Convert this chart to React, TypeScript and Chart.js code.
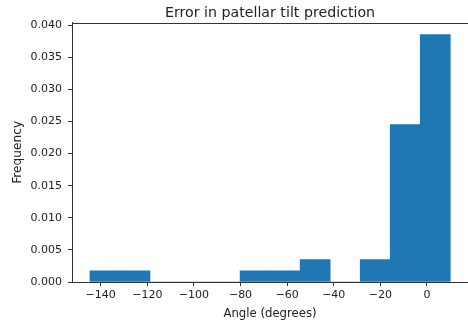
import React, { useEffect, useRef } from 'react';
import { Chart, registerables } from 'chart.js';

Chart.register(...registerables);

// Histogram bin edges (degrees) and density per bin
const binEdges = [-144.6, -131.717, -118.833, -105.95, -93.067, -80.183, -67.3, -54.417, -41.533, -28.65, -15.767, -2.883, 10.0];
const densities = [0.00175, 0.00175, 0, 0, 0, 0.00175, 0.00175, 0.0035, 0, 0.0035, 0.0245, 0.0385];
const xTicks = [-140, -120, -100, -80, -60, -40, -20, 0];
const yTicks = [0, 0.005, 0.01, 0.015, 0.02, 0.025, 0.03, 0.035, 0.04];
const xRange = [-152.3, 17.6];
const yRange = [0, 0.04036];
const titleText = 'Error in patellar tilt prediction';
const xLabel = 'Angle (degrees)';
const yLabel = 'Frequency';

const FONT = 'DejaVu Sans';
const BAR = '#1f77b4';
const AXIS = '#333333';
const TEXT = '#222222';

const topFrame = {
  id: 'topFrame',
  afterDraw(chart: any) {
    const { ctx, chartArea } = chart;
    ctx.save();
    ctx.strokeStyle = AXIS;
    ctx.lineWidth = 1;
    ctx.beginPath();
    ctx.moveTo(chartArea.left, Math.round(chartArea.top) + 0.5);
    ctx.lineTo(chartArea.right, Math.round(chartArea.top) + 0.5);
    ctx.stroke();
    ctx.restore();
  },
};

export default function App() {
  const ref = useRef<HTMLCanvasElement>(null);
  useEffect(() => {
    document.body.style.margin = '0';
    document.body.style.overflow = 'hidden';
    const points = densities.map((d, i) => ({ x: (binEdges[i] + binEdges[i + 1]) / 2, y: d }));
    const chart = new Chart(ref.current!, {
      type: 'bar',
      data: {
        datasets: [
          {
            data: points as any,
            backgroundColor: BAR,
            borderWidth: 0,
            barPercentage: 1,
            categoryPercentage: 1,
          },
        ],
      },
      plugins: [topFrame],
      options: {
        responsive: false,
        animation: false,
        layout: { padding: 0 },
        plugins: {
          legend: { display: false },
          tooltip: { enabled: false },
          title: {
            display: true,
            fullSize: false,
            text: titleText,
            color: TEXT,
            font: { family: FONT, size: 14.2, weight: 'normal' as any, lineHeight: 1.2 },
            padding: { top: 4.9, bottom: 0.8 },
          },
        },
        scales: {
          x: {
            type: 'linear',
            min: xRange[0],
            max: xRange[1],
            offset: false,
            afterBuildTicks: (s: any) => {
              s.ticks = xTicks.map((v) => ({ value: v }));
            },
            afterFit: (s: any) => {
              s.height = 43;
            },
            grid: { display: true, drawOnChartArea: false, drawTicks: true, tickLength: 4, color: AXIS, offset: false },
            border: { display: true, color: AXIS, width: 1 },
            ticks: {
              color: TEXT,
              font: { family: FONT, size: 11 },
              padding: 3,
              maxRotation: 0,
              autoSkip: false,
              callback: (v: any) => (v < 0 ? '\u2212' + Math.abs(v) : String(v)),
            },
            title: {
              display: true,
              text: xLabel,
              color: TEXT,
              font: { family: FONT, size: 11.7, lineHeight: 1.2 },
              padding: { top: 2, bottom: 4 },
            },
          },
          y: {
            type: 'linear',
            min: yRange[0],
            max: yRange[1],
            afterBuildTicks: (s: any) => {
              s.ticks = yTicks.map((v) => ({ value: v }));
            },
            afterFit: (s: any) => {
              s.width = 72;
            },
            grid: { display: true, drawOnChartArea: false, drawTicks: true, tickLength: 4, color: AXIS },
            border: { display: true, color: AXIS, width: 1 },
            ticks: {
              color: TEXT,
              font: { family: FONT, size: 11 },
              padding: 6,
              autoSkip: false,
              callback: (v: any) => Number(v).toFixed(3),
            },
            title: {
              display: true,
              text: yLabel,
              color: TEXT,
              font: { family: FONT, size: 12.2, lineHeight: 1.2 },
              padding: { top: 10.7, bottom: 0 },
            },
          },
        },
      },
    });
    return () => chart.destroy();
  }, []);
  return <canvas ref={ref} width={468} height={325} style={{ display: 'block' }} />;
}
